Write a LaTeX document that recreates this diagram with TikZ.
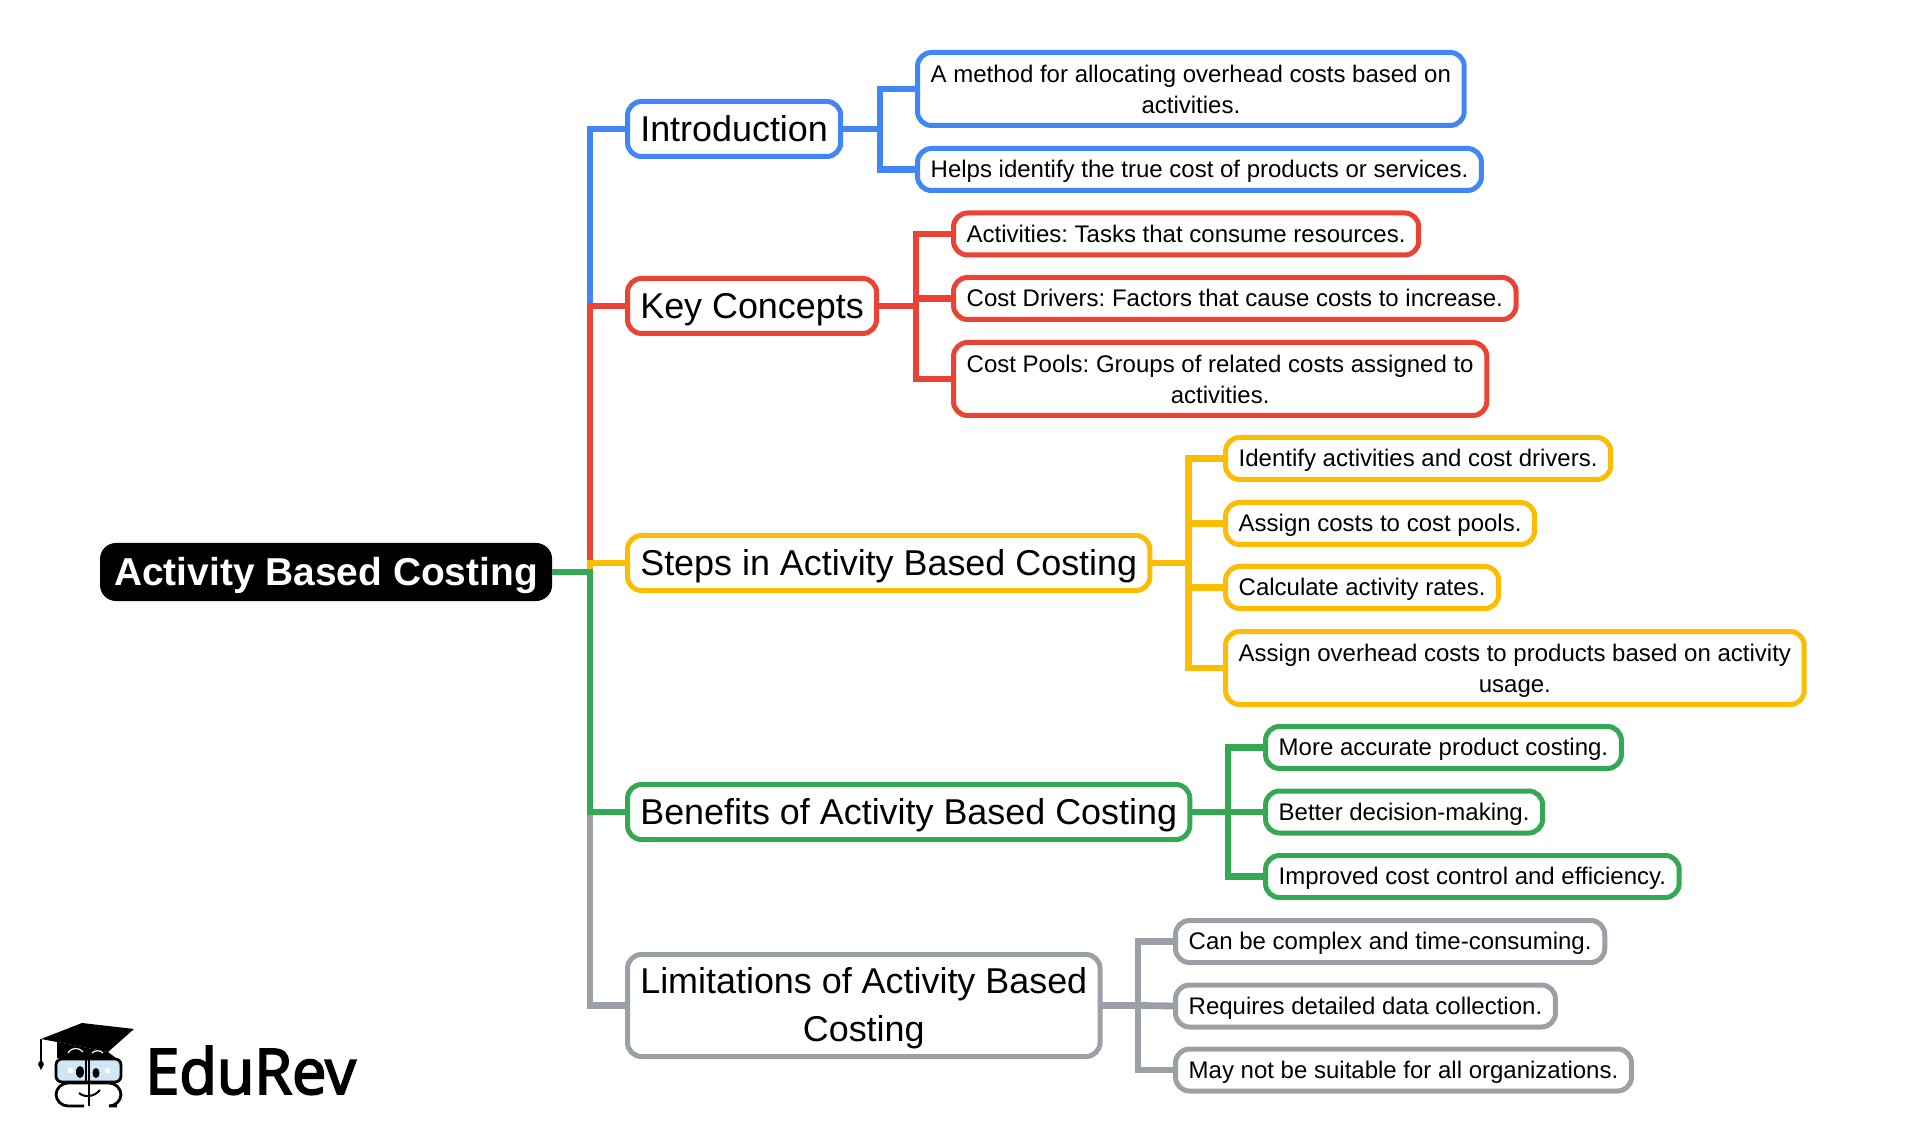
\documentclass[tikz,border=0pt]{standalone}
\usepackage{fontspec}
\setmainfont{Liberation Sans}
\newfontfamily\logofont[FakeStretch=0.97,FakeBold=3]{Open Sans}
\frenchspacing
\definecolor{cblue}{HTML}{4285F4}
\definecolor{cred}{HTML}{EA4335}
\definecolor{cyellow}{HTML}{FBBC04}
\definecolor{cgreen}{HTML}{34A853}
\definecolor{cgray}{HTML}{9AA0A6}
\definecolor{cglass}{HTML}{CFE6F5}
\begin{document}
\begin{tikzpicture}[x=0.5pt,y=-0.5pt,
  rootbox/.style={fill=black,text=white,rounded corners=8pt,anchor=west,outer sep=0pt,inner xsep=7.1pt,inner ysep=0pt,minimum height=29pt,text height=15pt,text depth=2pt,font=\fontsize{19.45}{24}\selectfont\bfseries},
  subbase/.style={fill=white,line width=2.5pt,rounded corners=7pt,anchor=west,outer sep=0pt,inner xsep=6.4pt,inner ysep=0pt,align=center,font=\fontsize{17.95}{23.7}\selectfont},
  subbox/.style={subbase,minimum height=27.5pt,text height=14.8pt,text depth=2.2pt},
  leafbase/.style={fill=white,line width=2.5pt,rounded corners=7pt,anchor=west,outer sep=0pt,inner xsep=6.6pt,inner ysep=0pt,align=center,font=\fontsize{12}{15.5}\selectfont},
  leafbox/.style={leafbase,minimum height=21pt,text height=9.2pt,text depth=0.8pt},
  leaftwo/.style={leafbase,minimum height=36.5pt,text depth=0pt},
  link/.style={line width=3.4pt}]
\useasboundingbox (0,0) rectangle (1907,1144);
\def\xsub{627.5};
\def\xi{917.5};
\def\xk{953.5};
\def\xs{1225.5};
\def\xb{1265.5};
\def\xl{1175.5};

\node[rootbox] (R) at (100,572) {Activity Based Costing};
\node[subbox,draw=cblue] (I) at (\xsub,129) {Introduction};
\node[subbox,draw=cred] (K) at (\xsub,306) {Key Concepts};
\node[subbox,draw=cyellow] (S) at (\xsub,563) {Steps in Activity Based Costing};
\node[subbox,draw=cgreen] (B) at (\xsub,812) {Benefits of Activity Based Costing};
\node[subbase,draw=cgray,minimum height=51pt,text depth=1pt] (L) at (\xsub,1005.5) {Limitations of Activity Based\\Costing};

\node[leaftwo,draw=cblue] (I1) at (\xi,89) {A method for allocating overhead costs based on\\activities.};
\node[leafbox,draw=cblue] (I2) at (\xi,169.5) {Helps identify the true cost of products or services.};
\node[leafbox,draw=cred] (K1) at (\xk,234) {Activities: Tasks that consume resources.};
\node[leafbox,draw=cred] (K2) at (\xk,298.5) {Cost Drivers: Factors that cause costs to increase.};
\node[leaftwo,draw=cred] (K3) at (\xk,379) {Cost Pools: Groups of related costs assigned to\\activities.};
\node[leafbox,draw=cyellow] (S1) at (\xs,458.5) {Identify activities and cost drivers.};
\node[leafbox,draw=cyellow] (S2) at (\xs,523.5) {Assign costs to cost pools.};
\node[leafbox,draw=cyellow] (S3) at (\xs,587.5) {Calculate activity rates.};
\node[leaftwo,draw=cyellow] (S4) at (\xs,668) {Assign overhead costs to products based on activity\\usage.};
\node[leafbox,draw=cgreen] (B1) at (\xb,747.5) {More accurate product costing.};
\node[leafbox,draw=cgreen] (B2) at (\xb,812) {Better decision-making.};
\node[leafbox,draw=cgreen] (B3) at (\xb,876.5) {Improved cost control and efficiency.};
\node[leafbox,draw=cgray] (L1) at (\xl,941.5) {Can be complex and time-consuming.};
\node[leafbox,draw=cgray] (L2) at (\xl,1006) {Requires detailed data collection.};
\node[leafbox,draw=cgray] (L3) at (\xl,1070) {May not be suitable for all organizations.};

\coordinate (T) at (590,572);
\coordinate (JI) at (880,129);
\coordinate (JK) at (916,306);
\coordinate (JS) at (1188.5,563);
\coordinate (JB) at (1228,812);
\coordinate (JL) at (1138,1005.5);

\draw[link,cblue] (R.east) -- (T) |- (I.west);
\draw[link,cred] (R.east) -- (T) |- (K.west);
\draw[link,cyellow] (R.east) -- (T) |- (S.west);
\draw[link,cgray] (R.east) -- (T) |- (L.west);
\draw[link,cgreen] (R.east) -- (T) |- (B.west);

\draw[link,cblue] (I.east) -- (JI) |- (I1.west);
\draw[link,cblue] (JI) |- (I2.west);
\draw[link,cred] (K.east) -- (JK) |- (K1.west);
\draw[link,cred] (JK) |- (K2.west);
\draw[link,cred] (JK) |- (K3.west);
\draw[link,cyellow] (S.east) -- (JS) |- (S1.west);
\draw[link,cyellow] (JS) |- (S2.west);
\draw[link,cyellow] (JS) |- (S3.west);
\draw[link,cyellow] (JS) |- (S4.west);
\draw[link,cgreen] (B.east) -- (JB) |- (B1.west);
\draw[link,cgreen] (JB) -- (B2.west);
\draw[link,cgreen] (JB) |- (B3.west);
\draw[link,cgray] (L.east) -- (JL) |- (L1.west);
\draw[link,cgray] (JL) -- (L2.west);
\draw[link,cgray] (JL) |- (L3.west);

\node[anchor=base west,inner sep=0pt,font=\fontsize{31.5}{36}\logofont] (E) at (145,1094) {EduRev};
\fill (41,1039) -- (82,1023) -- (134,1029) -- (108,1052) -- (57,1042) -- cycle;
\fill (57,1042) -- (108,1052) -- (116,1058) -- (57,1058) -- cycle;
\draw[line width=0.7pt] (41,1039) -- (41,1060);
\fill (41,1059) -- (44,1064) -- (41,1070) -- (38,1064) -- cycle;
\draw[white,line width=0.6pt] (68,1053) .. controls (72,1047) and (78,1047) .. (83,1052);
\draw[white,line width=0.6pt] (92,1053) .. controls (95,1050) and (100,1050) .. (103,1053);
\draw[fill=cglass,line width=1.4pt,rounded corners=3pt] (56,1059) rectangle (121,1082);
\draw[line width=1.4pt,rounded corners=6pt] (84,1106) -- (56,1106) -- (56,1083) -- (121,1083) -- (121,1106) -- (117,1106);
\draw[line width=1.4pt] (89,1057) -- (89,1106);
\draw[line width=1pt] (86,1057) -- (86,1082);
\fill (80,1072) ellipse (4 and 6);
\fill (96,1073) ellipse (3.5 and 5);
\fill[white] (68,1068) rectangle (73,1073);
\fill[white] (105,1068) rectangle (110,1073);
\draw[line width=1pt] (79,1093) .. controls (85,1098) and (94,1097) .. (100,1090);
\end{tikzpicture}
\end{document}
